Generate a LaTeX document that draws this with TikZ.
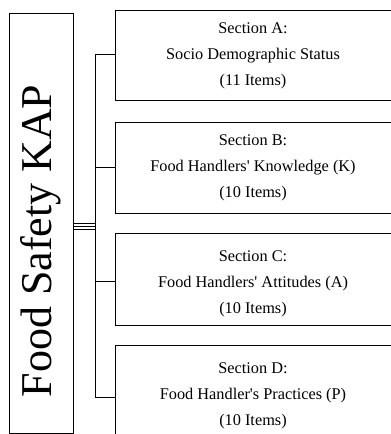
\documentclass[tikz,border=0pt]{standalone}
\usepackage{fontspec}
\setmainfont{Liberation Serif}[Ligatures=TeXOff]
\begin{document}
\begin{tikzpicture}[x=1pt,y=1pt,
  box/.style={draw=black,line width=1.3pt,rectangle,inner sep=0pt,anchor=north west,minimum width=320pt},
  conn/.style={draw=black,line width=0.7pt},
  sect/.style={align=center,font=\fontsize{16.3}{26}\selectfont,inner sep=0pt}]
\useasboundingbox (0,0) rectangle (391,-434);
\clip (0,0) rectangle (391,-434);
\node[draw=black,line width=1.3pt,rectangle,inner sep=0pt,minimum width=64pt,minimum height=420pt,anchor=north west] (kap) at (9,-13) {};
\node[rotate=90,font=\fontsize{44}{44}\selectfont,inner sep=0pt] (kaptext) at (41,-241) {Food Safety KAP};
\node[box,minimum height=90pt] (A) at (115,-10) {};
\node[box,minimum height=91pt] (B) at (115,-122) {};
\node[box,minimum height=92pt] (C) at (115,-233) {};
\node[box,minimum height=110pt] (D) at (115,-345) {};
\node[sect] (tA) at (253,-56) {Section A:\\Socio Demographic Status\\(11 Items)};
\node[sect] (tB) at (253,-168) {Section B:\\Food Handlers' Knowledge (K)\\(10 Items)};
\node[sect] (tC) at (253,-284) {Section C:\\Food Handlers' Attitudes (A)\\(10 Items)};
\node[sect] (tD) at (253,-396) {Section D:\\Food Handler's Practices (P)\\(10 Items)};
\coordinate (top) at (95,-54);
\coordinate (bot) at (95,-397);
\draw[conn] (top) -- (bot);
\draw[conn] (top) -- (A.west |- top);
\draw[conn] (95,-167) coordinate (bB) -- (B.west |- bB);
\draw[conn] (95,-281) coordinate (bC) -- (C.west |- bC);
\draw[conn] (bot) -- (D.west |- bot);
\foreach \dy in {0,-2.6,-5.2}{
  \draw[line width=0.6pt] ([yshift=\dy pt]kap.east) -- ([yshift=\dy pt]kap.east -| top);
}
\end{tikzpicture}
\end{document}
